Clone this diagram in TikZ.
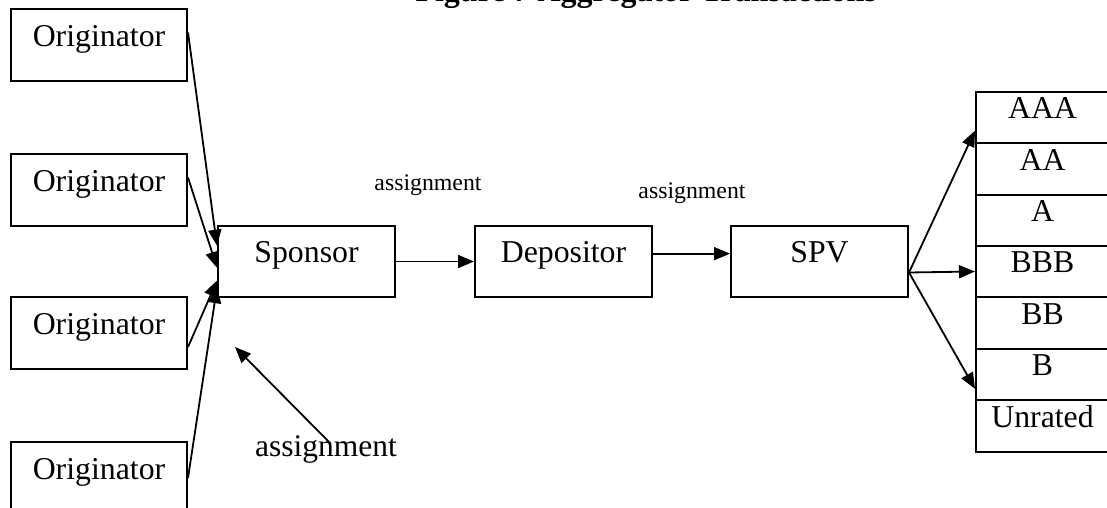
\documentclass[tikz,border=0pt]{standalone}
\usepackage{fontspec}
\setmainfont{Liberation Serif}
\usetikzlibrary{arrows.meta}

\tikzset{
  box/.style={draw, line width=2pt, inner sep=0pt,
    minimum width=176pt, minimum height=72pt,
    text height=0.7em, text depth=0.45em,
    font=\fontsize{31.8}{36}\selectfont},
  tranche/.style={box, minimum width=133pt, minimum height=51.5pt},
  flow/.style={-{Triangle[length=16pt,width=13pt]}, line width=1.8pt},
  lbl/.style={inner sep=0pt, font=\fontsize{23.8}{28}\selectfont}
}

\begin{document}
\begin{tikzpicture}[x=1pt, y=-1pt]
\useasboundingbox (0,0) rectangle (1107,508);
\clip (0,0) rectangle (1107,508);

% title, cut off at the top
\node (title) at (877, 2) [anchor=base east, inner sep=0pt,
    font=\fontsize{32}{36}\selectfont\bfseries] {Figure 7 Aggregator Transactions};

% originators
\node (o1) at (99, 45) [box] {Originator};
\node (o2) at (99, 190) [box] {Originator};
\node (o3) at (99, 333) [box] {Originator};
\node (o4) at (99, 478) [box] {Originator};

% chain
\node (sp)  at (306.5, 261.5) [box, minimum width=177pt, minimum height=71pt] {Sponsor};
\node (dep) at (563.5, 261.5) [box, minimum width=177pt, minimum height=71pt] {Depositor};
\node (spv) at (819.5, 261.5) [box, minimum width=177pt, minimum height=71pt] {SPV};

% tranches
\node (t1) at (1042.5, 117.5) [tranche] {AAA};
\node (t2) at (1042.5, 169) [tranche] {AA};
\node (t3) at (1042.5, 220.5) [tranche] {A};
\node (t4) at (1042.5, 271.5) [tranche] {BBB};
\node (t5) at (1042.5, 323) [tranche] {BB};
\node (t6) at (1042.5, 374.5) [tranche] {B};
\node (t7) at (1042.5, 426) [tranche] {Unrated};

% labels
\node (asg1) at (428, 185) [lbl] {assignment};
\node (asg2) at (692, 193.5) [lbl] {assignment};
\node (asg3) at (326, 449) [lbl, font=\fontsize{31.5}{36}\selectfont] {assignment};
\coordinate (tip) at (235, 347);

\draw[flow] (o1.8) -- (sp.170);
\draw[flow] (o2.8) -- (sp.184);
\draw[flow] (o3.-9) -- (sp.192.5);
\draw[flow] (o4.east) -- (sp.196.7);
\draw[flow] (sp.east) -- (dep.west);
\draw[flow] (dep.5) -- (spv.175);
\draw[flow] (spv.-7) -- (t1.191);
\draw[flow] (spv.-7) -- (t4.west);
\draw[flow] (spv.-7) -- (t6.192);
\draw[flow] ([xshift=4pt, yshift=6pt]asg3.center) -- (tip);

\end{tikzpicture}
\end{document}
